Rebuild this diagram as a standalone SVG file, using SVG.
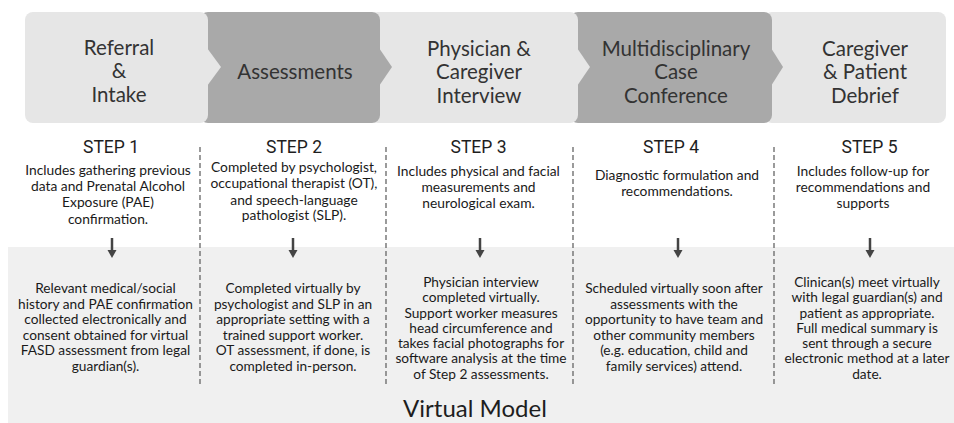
<svg xmlns="http://www.w3.org/2000/svg" width="954" height="423" viewBox="0 0 954 423">
  <style>
    .light { fill: #e6e6e6; }
    .dark { fill: #a9a9a9; }
    .title { font-family: Lato, "Open Sans", sans-serif; font-size: 20.5px; fill: #333333; text-anchor: middle; }
    .step { font-family: Roboto, "Liberation Sans", sans-serif; font-size: 17.5px; fill: #1e1e1e; text-anchor: middle; }
    .desc { font-family: Lato, "Open Sans", sans-serif; font-size: 13.8px; fill: #1a1a1a; text-anchor: middle; }
    .detail { font-family: Lato, "Open Sans", sans-serif; font-size: 13.7px; fill: #1a1a1a; text-anchor: middle; }
    .caption { font-family: Lato, "Open Sans", sans-serif; font-size: 24px; fill: #1e1e1e; text-anchor: middle; }
    .divider { stroke: #666666; stroke-width: 1.3; stroke-dasharray: 5 3; fill: none; }
    .shaft { stroke: #444444; stroke-width: 2.5; fill: none; }
    .head { fill: #444444; }
  </style>

  <rect width="954" height="423" fill="#ffffff"/>

  <!-- lower panel -->
  <rect x="8" y="247" width="946" height="176" fill="#f0f0f0"/>

  <!-- chevron band, drawn right to left so each tip overlaps the next stage -->
  <g id="stage5">
    <rect class="light" x="764" y="12" width="182" height="111" rx="8"/>
    <text class="title" x="865" y="55.5">Caregiver</text>
    <text class="title" x="865" y="79.2">&amp; Patient</text>
    <text class="title" x="865" y="102.8">Debrief</text>
  </g>
  <g id="stage4">
    <rect class="dark" x="570" y="12" width="202" height="111" rx="8"/>
    <polygon class="dark" points="771,48 783,67 771,86"/>
    <text class="title" x="676" y="55.5">Multidisciplinary</text>
    <text class="title" x="676" y="79.2">Case</text>
    <text class="title" x="676" y="102.8">Conference</text>
  </g>
  <g id="stage3">
    <rect class="light" x="370" y="12" width="208" height="111" rx="8"/>
    <polygon class="light" points="577,48 590,67 577,86"/>
    <text class="title" x="479" y="55.5">Physician &amp;</text>
    <text class="title" x="479" y="79.2">Caregiver</text>
    <text class="title" x="479" y="102.8">Interview</text>
  </g>
  <g id="stage2">
    <rect class="dark" x="200" y="12" width="180" height="111" rx="8"/>
    <polygon class="dark" points="379,48 392,67 379,86"/>
    <text class="title" x="295" y="79">Assessments</text>
  </g>
  <g id="stage1">
    <rect class="light" x="25" y="12" width="183" height="111" rx="8"/>
    <polygon class="light" points="207,48 221,67 207,86"/>
    <text class="title" x="119" y="54.5">Referral</text>
    <text class="title" x="119" y="78.2">&amp;</text>
    <text class="title" x="119" y="101.8">Intake</text>
  </g>

  <!-- column dividers and step arrows -->
  <g id="connectors">
    <line class="divider" x1="200" y1="147" x2="200" y2="385"/>
    <line class="divider" x1="386" y1="147" x2="386" y2="385"/>
    <line class="divider" x1="573" y1="147" x2="573" y2="385"/>
    <line class="divider" x1="774" y1="147" x2="774" y2="385"/>

    <line class="shaft" x1="112" y1="238" x2="112" y2="251"/>
    <polygon class="head" points="107.5,250 116.5,250 112,258"/>
    <line class="shaft" x1="293" y1="238" x2="293" y2="251"/>
    <polygon class="head" points="288.5,250 297.5,250 293,258"/>
    <line class="shaft" x1="480" y1="238" x2="480" y2="251"/>
    <polygon class="head" points="475.5,250 484.5,250 480,258"/>
    <line class="shaft" x1="678" y1="238" x2="678" y2="251"/>
    <polygon class="head" points="673.5,250 682.5,250 678,258"/>
    <line class="shaft" x1="870" y1="238" x2="870" y2="251"/>
    <polygon class="head" points="865.5,250 874.5,250 870,258"/>
  </g>

  <!-- step 1 -->
  <g id="step1">
    <text class="step" x="111" y="153">STEP 1</text>
    <text class="desc" x="108" y="174.5">Includes gathering previous</text>
    <text class="desc" x="108" y="190.5">data and Prenatal Alcohol</text>
    <text class="desc" x="108" y="207">Exposure (PAE)</text>
    <text class="desc" x="108" y="223.5">confirmation.</text>
    <text class="detail" x="105.5" y="293">Relevant medical/social</text>
    <text class="detail" x="105.5" y="308.5">history and PAE confirmation</text>
    <text class="detail" x="105.5" y="324">collected electronically and</text>
    <text class="detail" x="105.5" y="339.5">consent obtained for virtual</text>
    <text class="detail" x="105.5" y="355">FASD assessment from legal</text>
    <text class="detail" x="105.5" y="370.5">guardian(s).</text>
  </g>

  <!-- step 2 -->
  <g id="step2">
    <text class="step" x="294" y="153">STEP 2</text>
    <text class="desc" x="294" y="172">Completed by psychologist,</text>
    <text class="desc" x="294" y="188">occupational therapist (OT),</text>
    <text class="desc" x="294" y="204.5">and speech-language</text>
    <text class="desc" x="294" y="220">pathologist (SLP).</text>
    <text class="detail" x="293" y="293">Completed virtually by</text>
    <text class="detail" x="293" y="308.5">psychologist and SLP in an</text>
    <text class="detail" x="293" y="324">appropriate setting with a</text>
    <text class="detail" x="293" y="339.5">trained support worker.</text>
    <text class="detail" x="293" y="355">OT assessment, if done, is</text>
    <text class="detail" x="293" y="370.5">completed in-person.</text>
  </g>

  <!-- step 3 -->
  <g id="step3">
    <text class="step" x="478.5" y="153">STEP 3</text>
    <text class="desc" x="478.5" y="176">Includes physical and facial</text>
    <text class="desc" x="478.5" y="192">measurements and</text>
    <text class="desc" x="478.5" y="208">neurological exam.</text>
    <text class="detail" x="481" y="287">Physician interview</text>
    <text class="detail" x="481" y="302.3">completed virtually.</text>
    <text class="detail" x="481" y="317.5">Support worker measures</text>
    <text class="detail" x="481" y="332.8">head circumference and</text>
    <text class="detail" x="481" y="348">takes facial photographs for</text>
    <text class="detail" x="481" y="363.3">software analysis at the time</text>
    <text class="detail" x="481" y="378.5">of  Step 2 assessments.</text>
  </g>

  <!-- step 4 -->
  <g id="step4">
    <text class="step" x="671" y="153">STEP 4</text>
    <text class="desc" x="677" y="179.5">Diagnostic formulation and</text>
    <text class="desc" x="677" y="195.5">recommendations.</text>
    <text class="detail" x="674" y="293">Scheduled virtually soon after</text>
    <text class="detail" x="674" y="308.5">assessments with the</text>
    <text class="detail" x="674" y="324">opportunity to have team and</text>
    <text class="detail" x="674" y="339.5">other community members</text>
    <text class="detail" x="674" y="355">(e.g. education, child and</text>
    <text class="detail" x="674" y="370.5">family services) attend.</text>
  </g>

  <!-- step 5 -->
  <g id="step5">
    <text class="step" x="869.5" y="153">STEP 5</text>
    <text class="desc" x="863" y="176">Includes follow-up for</text>
    <text class="desc" x="863" y="192">recommendations and</text>
    <text class="desc" x="863" y="208">supports</text>
    <text class="detail" x="867" y="287">Clinican(s) meet virtually</text>
    <text class="detail" x="867" y="302.3">with legal guardian(s) and</text>
    <text class="detail" x="867" y="317.5">patient as appropriate.</text>
    <text class="detail" x="867" y="332.8">Full medical summary is</text>
    <text class="detail" x="867" y="348">sent through a secure</text>
    <text class="detail" x="867" y="363.3">electronic method at a later</text>
    <text class="detail" x="867" y="378.5">date.</text>
  </g>

  <text class="caption" x="475" y="417">Virtual Model</text>
</svg>
